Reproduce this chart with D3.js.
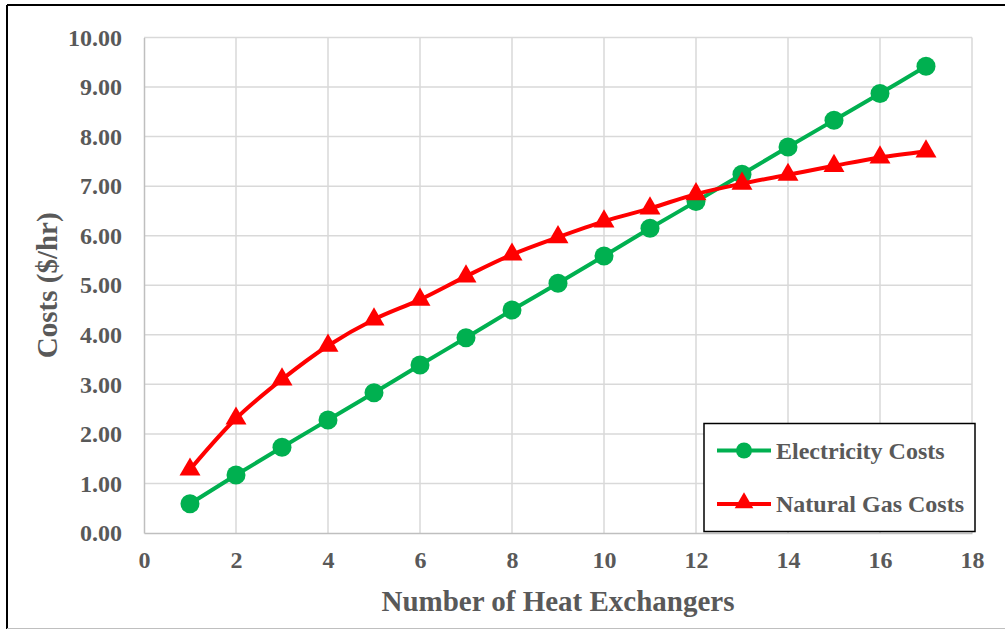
<!DOCTYPE html>
<html lang="en">
<head>
<meta charset="utf-8">
<title>Costs vs Number of Heat Exchangers</title>
<script src="https://d3js.org/d3.v7.min.js"></script>
<style>
  body { margin: 0; background: #fff; }
  text { font-family: "Liberation Serif", "Times New Roman", serif; font-weight: bold; fill: #595959; }
</style>
</head>
<body>
<div id="chart"></div>
<script>
// data
var exchangers = [1, 2, 3, 4, 5, 6, 7, 8, 9, 10, 11, 12, 13, 14, 15, 16, 17];
var electricity = [0.59, 1.17, 1.73, 2.28, 2.83, 3.39, 3.94, 4.50, 5.04, 5.59, 6.15, 6.69, 7.24, 7.79, 8.33, 8.87, 9.42];
var naturalGas = [1.28, 2.31, 3.10, 3.78, 4.31, 4.71, 5.18, 5.62, 5.97, 6.29, 6.55, 6.84, 7.05, 7.23, 7.41, 7.58, 7.70];
var xTicks = [0, 2, 4, 6, 8, 10, 12, 14, 16, 18];
var yTicks = [0, 1, 2, 3, 4, 5, 6, 7, 8, 9, 10];
var seriesNames = ["Electricity Costs", "Natural Gas Costs"];

var W = 1005, H = 629;
var margin = {top: 37.5, right: 33, bottom: 96, left: 144};

var svg = d3.select("#chart").append("svg")
    .attr("width", W)
    .attr("height", H);

// outer frame
svg.append("line").attr("x1", 7).attr("x2", W).attr("y1", 5).attr("y2", 5)
    .attr("stroke", "#000").attr("stroke-width", 2);
svg.append("line").attr("x1", 7).attr("x2", 7).attr("y1", 5).attr("y2", H)
    .attr("stroke", "#000").attr("stroke-width", 2);
svg.append("line").attr("x1", 7).attr("x2", W).attr("y1", 628.5).attr("y2", 628.5)
    .attr("stroke", "#bfbfbf").attr("stroke-width", 1);

var x = d3.scaleLinear().domain([0, 18]).range([margin.left, W - margin.right]);
var y = d3.scaleLinear().domain([0, 10]).range([H - margin.bottom, margin.top]);

// gridlines
svg.append("g").selectAll("line").data(yTicks.slice(1)).enter().append("line")
    .attr("x1", x(0)).attr("x2", x(18))
    .attr("y1", function(d) { return y(d); }).attr("y2", function(d) { return y(d); })
    .attr("stroke", "#d9d9d9").attr("stroke-width", 1.5);
svg.append("g").selectAll("line").data(xTicks.slice(1)).enter().append("line")
    .attr("x1", function(d) { return x(d); }).attr("x2", function(d) { return x(d); })
    .attr("y1", y(0)).attr("y2", y(10))
    .attr("stroke", "#d9d9d9").attr("stroke-width", 1.5);

// axes
var xAxis = svg.append("g")
    .attr("transform", "translate(0," + y(0) + ")")
    .call(d3.axisBottom(x).tickValues(xTicks).tickSize(0).tickPadding(18).tickFormat(d3.format("d")));
var yAxis = svg.append("g")
    .attr("transform", "translate(" + x(0) + ",0)")
    .call(d3.axisLeft(y).tickValues(yTicks).tickSize(0).tickPadding(22).tickFormat(d3.format(".2f")));
[xAxis, yAxis].forEach(function(a) {
  a.select(".domain").attr("stroke", "#bfbfbf").attr("stroke-width", 1.5);
  a.selectAll("text").style("font-size", "24px").attr("fill", "#595959")
    .style("font-family", "'Liberation Serif', serif").style("font-weight", "bold");
});

// axis titles
svg.append("text")
    .attr("x", (x(0) + x(18)) / 2).attr("y", 611)
    .attr("text-anchor", "middle")
    .style("font-size", "29px")
    .text("Number of Heat Exchangers");
svg.append("text")
    .attr("transform", "translate(57," + (y(0) + y(10)) / 2 + ") rotate(-90)")
    .attr("text-anchor", "middle")
    .style("font-size", "29px")
    .text("Costs ($/hr)");

var green = "#00b050", red = "#ff0000";
var tri = d3.symbol().type(d3.symbolTriangle).size(190);

var line = d3.line().curve(d3.curveCatmullRom.alpha(0.5))
    .x(function(d, i) { return x(exchangers[i]); })
    .y(function(d) { return y(d); });

svg.append("path").datum(electricity).attr("d", line)
    .attr("fill", "none").attr("stroke", green).attr("stroke-width", 4);
svg.append("g").selectAll("circle").data(electricity).enter().append("circle")
    .attr("cx", function(d, i) { return x(exchangers[i]); })
    .attr("cy", function(d) { return y(d); })
    .attr("r", 9.5).attr("fill", green);

svg.append("path").datum(naturalGas).attr("d", line)
    .attr("fill", "none").attr("stroke", red).attr("stroke-width", 4);
svg.append("g").selectAll("path").data(naturalGas).enter().append("path")
    .attr("d", tri)
    .attr("transform", function(d, i) { return "translate(" + x(exchangers[i]) + "," + y(d) + ")"; })
    .attr("fill", red);

// legend
var legend = svg.append("g");
legend.append("rect")
    .attr("x", 704).attr("y", 423.5).attr("width", 271).attr("height", 108)
    .attr("fill", "#fff").attr("stroke", "#000").attr("stroke-width", 1.5);
var rows = [
  {name: seriesNames[0], color: green, cy: 450.5, marker: "circle"},
  {name: seriesNames[1], color: red, cy: 504, marker: "triangle"}
];
rows.forEach(function(r) {
  legend.append("line").attr("x1", 717).attr("x2", 771).attr("y1", r.cy).attr("y2", r.cy)
      .attr("stroke", r.color).attr("stroke-width", 4);
  if (r.marker == "circle") {
    legend.append("circle").attr("cx", 744).attr("cy", r.cy).attr("r", 8).attr("fill", r.color);
  } else {
    legend.append("path").attr("d", d3.symbol().type(d3.symbolTriangle).size(150))
        .attr("transform", "translate(744," + (r.cy - 1) + ")").attr("fill", r.color);
  }
  legend.append("text").attr("x", 776).attr("y", r.cy + 8)
      .style("font-size", "24px").text(r.name);
});
</script>
</body>
</html>
